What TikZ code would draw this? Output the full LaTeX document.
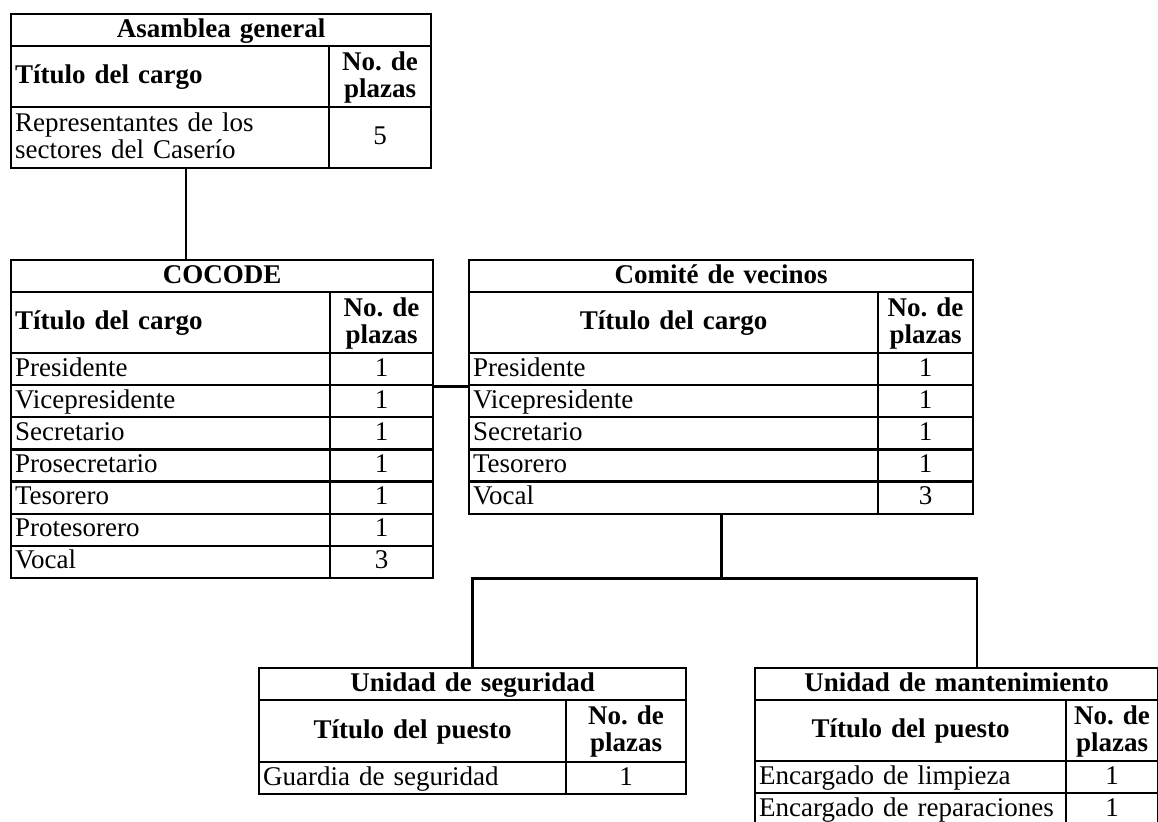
\documentclass[tikz,border=0pt]{standalone}
\usepackage{fontspec}
\setmainfont{Liberation Serif}
\usetikzlibrary{calc}
\tikzset{cell/.style={draw, rectangle, line width=1.1pt, anchor=north west, inner xsep=2pt, inner ysep=0pt, font=\fontsize{13.5}{13.5}\selectfont}}
\tikzset{link/.style={draw, line width=1.4pt}}
\newcommand{\cstrut}{\rule[-3pt]{0pt}{13pt}}
% name, x, y, width, height, align, text (pixel units)
\newcommand{\tcell}[7]{%
  \pgfmathsetmacro\tw{#4*0.5-4}%
  \node[cell, minimum width=#4*0.5pt, minimum height=#5*0.5pt, text width=\tw pt, align=#6] (#1) at (#2,#3) {\cstrut#7\cstrut};}

\begin{document}
\begin{tikzpicture}[x=0.5pt,y=-0.5pt]
  \useasboundingbox (0,0) rectangle (1158,821);

  % Asamblea general
  \tcell{ag-title}{10}{13}{420}{32}{center}{\bfseries Asamblea general}
  \tcell{ag-h-l}{10}{45}{318}{61}{left}{\bfseries T\'itulo del cargo}
  \tcell{ag-h-r}{328}{45}{102}{61}{center}{\bfseries No.\ de\\plazas}
  \tcell{ag1-l}{10}{106}{318}{61}{left}{Representantes de los\\sectores del Caser\'io}
  \tcell{ag1-r}{328}{106}{102}{61}{center}{5}

  % COCODE
  \tcell{cc-title}{10}{259}{422}{32}{center}{\bfseries COCODE}
  \tcell{cc-h-l}{10}{291}{319}{61}{left}{\bfseries T\'itulo del cargo}
  \tcell{cc-h-r}{329}{291}{103}{61}{center}{\bfseries No.\ de\\plazas}
  \foreach \lab/\num [count=\i] in {
    Presidente/1,
    Vicepresidente/1,
    Secretario/1,
    Prosecretario/1,
    Tesorero/1,
    Protesorero/1,
    Vocal/3%
  } {
    \pgfmathsetmacro\ry{352+32.1*(\i-1)}
    \tcell{cc\i-l}{10}{\ry}{319}{32.1}{left}{\lab}
    \tcell{cc\i-r}{329}{\ry}{103}{32.1}{center}{\num}
  }

  % Comite de vecinos
  \tcell{cv-title}{468}{259}{504}{32}{center}{\bfseries Comit\'e de vecinos}
  \tcell{cv-h-l}{468}{291}{409}{61}{center}{\bfseries T\'itulo del cargo}
  \tcell{cv-h-r}{877}{291}{95}{61}{center}{\bfseries No.\ de\\plazas}
  \foreach \lab/\num [count=\i] in {
    Presidente/1,
    Vicepresidente/1,
    Secretario/1,
    Tesorero/1,
    Vocal/3%
  } {
    \pgfmathsetmacro\ry{352+32.1*(\i-1)}
    \tcell{cv\i-l}{468}{\ry}{409}{32.1}{left}{\lab}
    \tcell{cv\i-r}{877}{\ry}{95}{32.1}{center}{\num}
  }

  % Unidad de seguridad
  \tcell{us-title}{258}{667}{427}{32}{center}{\bfseries Unidad de seguridad}
  \tcell{us-h-l}{258}{699}{307}{62}{center}{\bfseries T\'itulo del puesto}
  \tcell{us-h-r}{565}{699}{120}{62}{center}{\bfseries No.\ de\\plazas}
  \tcell{us1-l}{258}{761}{307}{32}{left}{Guardia de seguridad}
  \tcell{us1-r}{565}{761}{120}{32}{center}{1}

  % Unidad de mantenimiento
  \tcell{um-title}{754}{667}{403}{32}{center}{\bfseries Unidad de mantenimiento}
  \tcell{um-h-l}{754}{699}{311}{61}{center}{\bfseries T\'itulo del puesto}
  \tcell{um-h-r}{1065}{699}{92}{61}{center}{\bfseries No.\ de\\plazas}
  \tcell{um1-l}{754}{760}{311}{32}{left}{Encargado de limpieza}
  \tcell{um1-r}{1065}{760}{92}{32}{center}{1}
  \tcell{um2-l}{754}{792}{311}{32}{left}{Encargado de reparaciones}
  \tcell{um2-r}{1065}{792}{92}{32}{center}{1}

  % connectors
  \coordinate (ag-out) at ($(ag1-l.south west)+(176,0)$);
  \draw[link] (ag-out) -- (ag-out |- cc-title.north);
  \draw[link] (cc1-r.south east) -- (cc1-r.south east -| cv1-l.south west);
  \coordinate (cv-foot) at (cv-title.south |- cv5-l.south);
  \draw[link] (cv-foot) -- ++(0,64) coordinate (split);
  \coordinate (um-in) at ($(um-title.north west)+(223,0)$);
  \draw[link] (us-title.north) |- (split) -| (um-in);

\end{tikzpicture}
\end{document}
